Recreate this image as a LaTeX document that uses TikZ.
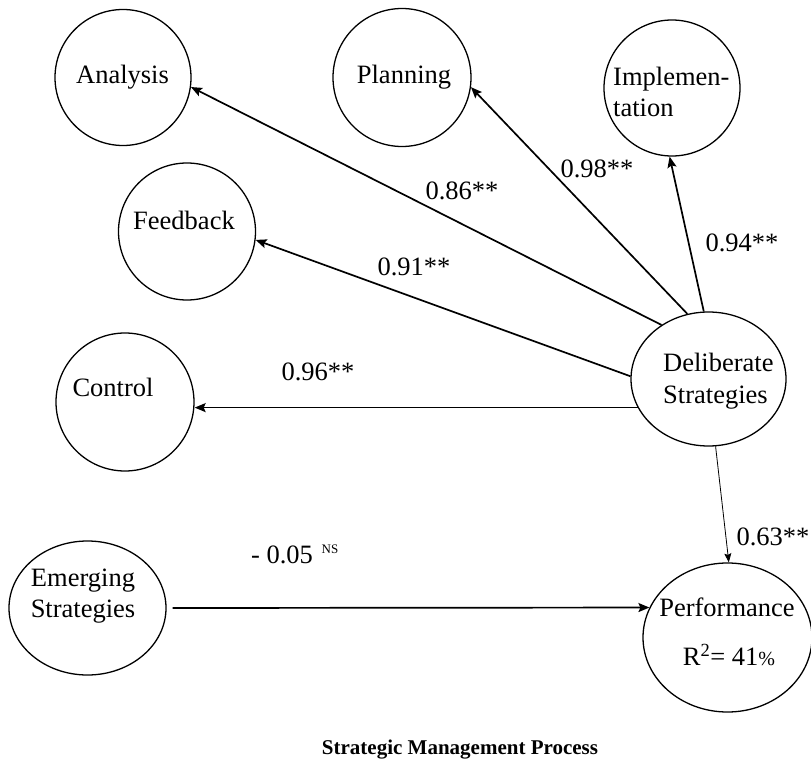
\documentclass[tikz,border=0pt]{standalone}
\usepackage{fontspec}
\setmainfont{Liberation Serif}
\usetikzlibrary{arrows.meta,shapes.geometric}
\begin{document}
\begin{tikzpicture}[x=1pt,y=-1pt,
  circ/.style={draw,circle,line width=1.3pt,minimum size=#1,inner sep=0pt},
  ell/.style 2 args={draw,ellipse,line width=1.3pt,minimum width=#1,minimum height=#2,inner sep=0pt},
  txt/.style={font=\fontsize{26.5}{31.8}\selectfont,inner sep=0pt},
  small/.style={font=\fontsize{13}{15}\selectfont,inner sep=0pt},
  titlefont/.style={font=\bfseries\fontsize{21}{25}\selectfont,inner sep=0pt},
  arr/.style={line width=1.7pt,-{Stealth[length=11pt,width=9pt,inset=2pt]}},
  thinarr/.style={line width=0.8pt,-{Stealth[length=9pt,width=7pt,inset=1.5pt]}}
]
\useasboundingbox (0,0) rectangle (811,762);
% shapes
\node[circ=136] (ana)  at (123,77.5) {};
\node[circ=138] (plan) at (402,77.5) {};
\node[circ=136] (impl) at (672,88) {};
\node[circ=137] (feed) at (187,231.5) {};
\node[circ=138] (ctrl) at (125,402) {};
\node[ell={155}{134}] (deli) at (708.5,379) {};
\node[ell={157}{134}] (emer) at (87.5,608) {};
\node[ell={169}{149}] (perf) at (727.5,637.5) {};
% texts in shapes
\node[txt] (anat)  at (122.5,77) {Analysis};
\node[txt] (plant) at (404,77) {Planning};
\node[txt,anchor=west,align=left] (implt) at (613,92) {Implemen-\\tation};
\node[txt] (feedt) at (184,220) {Feedback};
\node[txt] (ctrlt) at (113,387) {Control};
\node[txt,anchor=west,align=left] (delit) at (663,381) {Deliberate\\Strategies};
\node[txt,align=center] (emert) at (83,596) {Emerging\\Strategies};
\node[txt] (perft1) at (727,607) {Performance};
\node[txt] (perft2) at (729,655) {R\textsuperscript{2}= 41{\fontsize{20}{24}\selectfont\%}};
% connectors
\draw[arr] (deli.131) -- (ana.-8);
\draw[arr] (deli.108) -- (plan.-8);
\draw[arr] (deli.94) -- (impl.268);
\draw[arr] (deli.178) -- (feed.-7);
\draw[arr] (deli.202) -- (deli.202 -| ctrl.east);
\draw[thinarr] (deli.276) -- (perf.89);
\draw[arr] ([xshift=6pt]emer.east) -- (perf.159);
% labels
\node[txt] (l86) at (462,191) {0.86**};
\node[txt] (l98) at (597,169) {0.98**};
\node[txt] (l94) at (742,243) {0.94**};
\node[txt] (l91) at (414,267) {0.91**};
\node[txt] (l96) at (318,372) {0.96**};
\node[txt] (l63) at (773,537) {0.63**};
\node[txt] (l05) at (282,555) {- 0.05};
\node[small] (lns) at (330,549) {NS};
\node[titlefont] (title) at (460,750) {Strategic Management Process};
\end{tikzpicture}
\end{document}
